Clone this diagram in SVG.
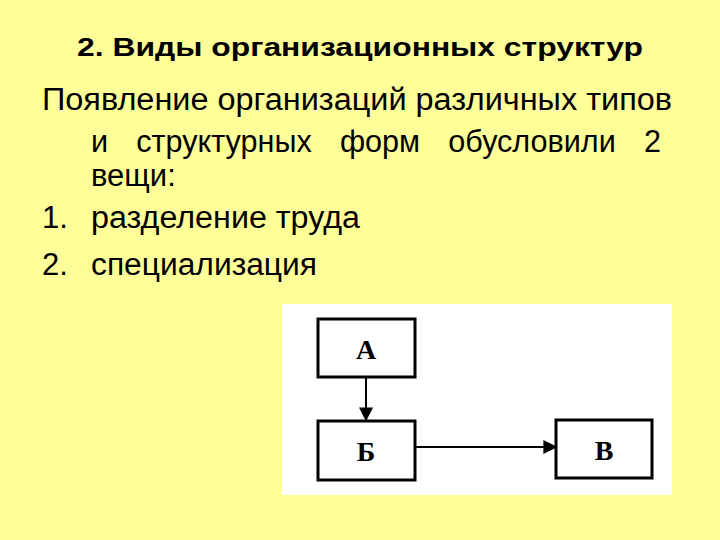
<svg xmlns="http://www.w3.org/2000/svg" width="720" height="540" viewBox="0 0 720 540">
<defs>
<style>
.t{font-family:"Liberation Sans",Arial,sans-serif;font-size:31px;fill:#000}
.b{fill:#fff;stroke:#000;stroke-width:3}
.l{font-family:"Liberation Serif","Times New Roman",serif;font-size:28px;font-weight:bold;text-anchor:middle}
.c{stroke:#000;stroke-width:2;fill:none}
</style>
<marker id="ar" viewBox="0 0 10 10" refX="9" refY="5" markerWidth="7" markerHeight="7" orient="auto"><path d="M0,0L10,5L0,10z" fill="#000"/></marker>
</defs>
<rect width="720" height="540" fill="#ffff99"/>
<text x="360" y="56" class="t" style="font-weight:bold;font-size:25px" text-anchor="middle" textLength="566" lengthAdjust="spacingAndGlyphs">2. Виды организационных структур</text>
<text x="42" y="110" class="t" textLength="630" lengthAdjust="spacingAndGlyphs">Появление организаций различных типов</text>
<text x="91" y="152" class="t" textLength="570" lengthAdjust="spacingAndGlyphs" word-spacing="20">и структурных форм обусловили 2</text>
<text x="91" y="186" class="t">вещи:</text>
<text x="42" y="228" class="t">1.</text><text x="91" y="228" class="t" textLength="269" lengthAdjust="spacingAndGlyphs">разделение труда</text>
<text x="42" y="275" class="t">2.</text><text x="91" y="275" class="t" textLength="226" lengthAdjust="spacingAndGlyphs">специализация</text>
<rect x="282" y="304" width="390" height="191" fill="#fff"/>
<g id="connectors">
<line x1="366" y1="377" x2="366" y2="420" class="c" marker-end="url(#ar)"/>
<line x1="415" y1="447" x2="556" y2="447" class="c" marker-end="url(#ar)"/>
</g>
<g id="A"><rect x="318" y="319" width="97" height="58" class="b"/><text x="366" y="359" class="l">А</text></g>
<g id="B"><rect x="318" y="421" width="97" height="59" class="b"/><text x="366" y="461" class="l">Б</text></g>
<g id="V"><rect x="556" y="420" width="96" height="58" class="b"/><text x="604" y="460" class="l">В</text></g>
</svg>
